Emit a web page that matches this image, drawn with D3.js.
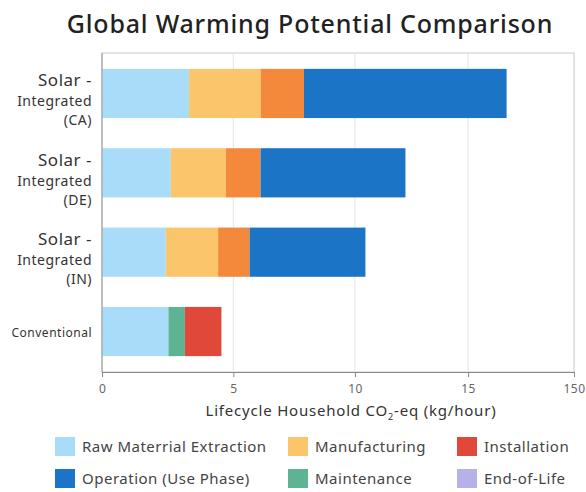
<!DOCTYPE html>
<html>
<head>
<meta charset="utf-8">
<script src="https://cdn.jsdelivr.net/npm/d3@7"></script>
<style>
  body { margin: 0; background: #fff; }
  text { font-family: "Noto Sans", "Open Sans", sans-serif; }
</style>
</head>
<body>
<div id="chart"></div>
<script>
// categories, top to bottom
const categories = ["Solar - Integrated (CA)", "Solar - Integrated (DE)", "Solar - Integrated (IN)", "Conventional"];
const categoryLines = [
  ["Solar -", "Integrated", "(CA)"],
  ["Solar -", "Integrated", "(DE)"],
  ["Solar -", "Integrated", "(IN)"],
  ["Conventional"]
];

// stack order of the segments, left to right
const seriesKeys = ["raw", "manufacturing", "other", "operation", "maintenance", "installation", "endOfLife"];
const seriesNames = ["Raw Materrial Extraction", "Manufacturing", "", "Operation (Use Phase)", "Maintenance", "Installation", "End-of-Life"];
const seriesColors = ["#a9dcf9", "#fbc56c", "#f4883b", "#1b74c6", "#5db392", "#e0483a", "#b7b1ea"];

// values per series (kg CO2-eq / hour), one entry per category
const raw           = [3.27, 2.57, 2.38, 2.48];
const manufacturing = [2.82, 2.13, 2.02, 0];
const other         = [1.77, 1.39, 1.25, 0];
const operation     = [8.92, 6.10, 4.80, 0];
const maintenance   = [0, 0, 0, 0.63];
const installation  = [0, 0, 0, 1.42];
const endOfLife     = [0, 0, 0, 0];

// x ticks and the labels printed under them
const tickValues = [0, 5, 10, 15, 20];
const tickLabels = ["0", "5", "10", "15", "150"];

// legend order (index into seriesKeys), two rows of three
const legendOrder = [0, 1, 5, 3, 4, 6];

const width = 586, height = 492;
const margin = { top: 53, left: 102, right: 12, bottom: 120 };

const rows = categories.map((c, i) => ({
  category: c,
  raw: raw[i], manufacturing: manufacturing[i], other: other[i],
  operation: operation[i], maintenance: maintenance[i],
  installation: installation[i], endOfLife: endOfLife[i]
}));

const svg = d3.select("#chart").append("svg")
  .attr("width", width)
  .attr("height", height);

// Title
svg.append("text")
  .attr("x", 310)
  .attr("y", 33)
  .attr("text-anchor", "middle")
  .style("font-size", "25px")
  .style("font-weight", 500)
  .style("letter-spacing", "0.8px")
  .style("fill", "#222")
  .text("Global Warming Potential Comparison");

const x = d3.scaleSymlog()
  .constant(60)
  .domain([0, 20])
  .range([margin.left, width - margin.right]);

const y = d3.scaleBand()
  .domain(categories)
  .range([margin.top, height - margin.bottom])
  .paddingInner(0.38)
  .paddingOuter(0.2);

const plotTop = margin.top, plotBottom = height - margin.bottom;

// frame
svg.append("rect")
  .attr("x", margin.left)
  .attr("y", plotTop)
  .attr("width", width - margin.right - margin.left)
  .attr("height", plotBottom - plotTop)
  .style("fill", "none")
  .style("stroke", "#c8c8c8");

// gridlines
svg.append("g")
  .selectAll("line")
  .data(tickValues.slice(1, -1))
  .join("line")
    .attr("x1", d => x(d))
    .attr("x2", d => x(d))
    .attr("y1", plotTop)
    .attr("y2", plotBottom)
    .style("stroke", "#e4e4e4");

// bars
const stack = d3.stack().keys(seriesKeys);
svg.append("g")
  .selectAll("g")
  .data(stack(rows))
  .join("g")
    .style("fill", (d, i) => seriesColors[i])
  .selectAll("rect")
  .data(d => d)
  .join("rect")
    .attr("x", d => x(d[0]))
    .attr("y", d => y(d.data.category))
    .attr("width", d => x(d[1]) - x(d[0]))
    .attr("height", y.bandwidth());

// x axis
const xAxis = svg.append("g")
  .attr("transform", "translate(0," + plotBottom + ")")
  .call(d3.axisBottom(x)
    .tickValues(tickValues)
    .tickSize(5)
    .tickPadding(7)
    .tickFormat((d, i) => tickLabels[i]));
xAxis.select(".domain").style("stroke", "#888");
xAxis.selectAll(".tick line").style("stroke", "#888");
xAxis.selectAll(".tick text")
  .style("font-size", "12px")
  .style("fill", "#666")
  .style("letter-spacing", "0.4px")
  .style("font-family", "\"Noto Sans\", sans-serif");

// left axis line
svg.append("line")
  .attr("x1", margin.left)
  .attr("x2", margin.left)
  .attr("y1", plotTop)
  .attr("y2", plotBottom)
  .style("stroke", "#999");

// x axis label
const xLabel = svg.append("text")
  .attr("x", 351)
  .attr("y", 416)
  .attr("text-anchor", "middle")
  .style("font-size", "15px")
  .style("letter-spacing", "0.8px")
  .style("fill", "#333");
xLabel.append("tspan").text("Lifecycle Household CO");
xLabel.append("tspan").attr("dy", 4).style("font-size", "9px").text("2");
xLabel.append("tspan").attr("dy", -4).text("-eq (kg/hour)");

// y labels
const yLabels = svg.append("g")
  .selectAll("text")
  .data(categories)
  .join("text")
    .attr("text-anchor", "end")
    .style("letter-spacing", "0.5px")
    .style("fill", "#333");

yLabels.each(function (d, i) {
  const lines = categoryLines[i];
  const cy = y(d) + y.bandwidth() / 2;
  const t = d3.select(this);
  if (lines.length === 1) {
    t.append("tspan")
      .attr("x", 92)
      .attr("y", cy + 5)
      .style("font-size", "12px")
      .text(lines[0]);
  } else {
    t.append("tspan").attr("x", 92).attr("y", cy - 7)
      .style("font-size", "17px").text(lines[0]);
    t.append("tspan").attr("x", 92).attr("y", cy + 13)
      .style("font-size", "14px").text(lines[1]);
    t.append("tspan").attr("x", 92).attr("y", cy + 32)
      .style("font-size", "14px").text(lines[2]);
  }
});

// legend
const legendX = [55, 288, 457], legendY = [437, 469];
const legend = svg.append("g")
  .selectAll("g")
  .data(legendOrder)
  .join("g")
    .attr("transform", (d, i) => "translate(" + legendX[i % 3] + "," + legendY[Math.floor(i / 3)] + ")");

legend.append("rect")
  .attr("width", 20)
  .attr("height", 19)
  .style("fill", d => seriesColors[d]);

legend.append("text")
  .attr("x", 27)
  .attr("y", 15)
  .style("font-size", "15px")
  .style("letter-spacing", "0.5px")
  .style("fill", "#444")
  .text(d => seriesNames[d]);
</script>
</body>
</html>
